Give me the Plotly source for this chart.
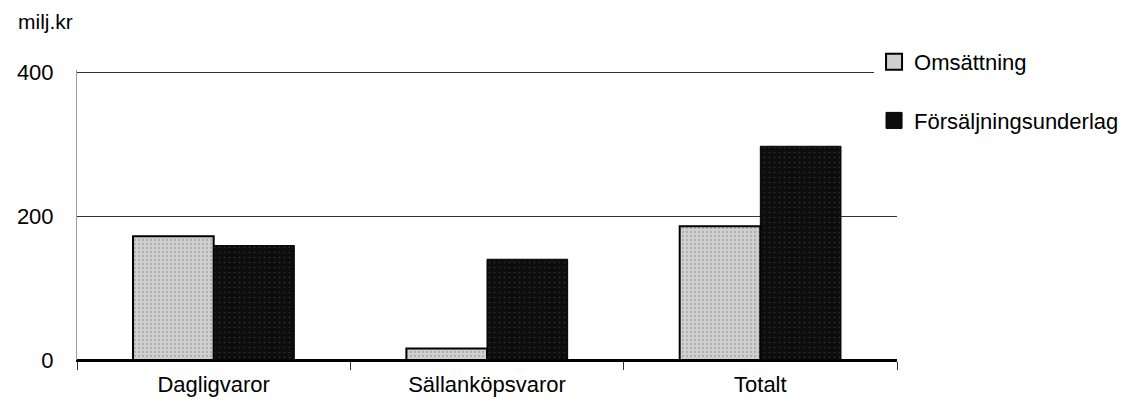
import plotly.graph_objects as go

categories = ["Dagligvaror", "Sällanköpsvaror", "Totalt"]
omsattning = [172, 16, 186]
forsaljningsunderlag = [159, 140, 297]
y_ticks = [0, 200, 400]

FONT = "Liberation Sans, Arial, Helvetica, sans-serif"
LIGHT = "#d0d0d0"
DARK = "#0d0d0d"

fig = go.Figure()
fig.add_trace(go.Bar(
    x=categories, y=omsattning, name="Omsättning", showlegend=False,
    marker=dict(color=LIGHT, line=dict(color="black", width=2),
                pattern=dict(shape=".", fgcolor="#8a8a8a", size=4, solidity=0.25)),
))
fig.add_trace(go.Bar(
    x=categories, y=forsaljningsunderlag, name="Försäljningsunderlag", showlegend=False,
    marker=dict(color=DARK, line=dict(color="black", width=1),
                pattern=dict(shape=".", fgcolor="#5a5a5a", size=5, solidity=0.08)),
))

# legend-only entries so the key squares can be as large as in the original
fig.add_trace(go.Scatter(
    x=[None], y=[None], mode="markers", name="Omsättning", legendgroup="a",
    marker=dict(symbol="square", size=20, color=LIGHT, line=dict(color="black", width=2)),
))
fig.add_trace(go.Scatter(
    x=[None], y=[None], mode="markers", name="Försäljningsunderlag", legendgroup="b",
    marker=dict(symbol="square", size=20, color=DARK, line=dict(color="black", width=1)),
))

fig.update_layout(
    width=1130, height=395,
    paper_bgcolor="white", plot_bgcolor="white",
    font=dict(family=FONT, size=22, color="black"),
    margin=dict(l=69, r=241, t=62, b=43),
    barmode="group", bargap=0.41, bargroupgap=0,
    showlegend=True,
    legend=dict(x=0.972, y=1.1, xanchor="left", yanchor="top",
                bgcolor="white", font=dict(size=22), tracegroupgap=27,
                itemsizing="trace"),
    annotations=[dict(text="milj.kr", xref="paper", yref="paper", x=-0.075, y=1.12,
                      xanchor="left", yanchor="bottom", showarrow=False,
                      font=dict(size=21))],
)
fig.update_yaxes(
    range=[0, 403], tickvals=y_ticks, showgrid=True, gridcolor="#333333", gridwidth=1,
    zeroline=True, zerolinecolor="black", zerolinewidth=1.5,
    showline=True, linecolor="#9a9a9a", linewidth=1,
    ticks="", ticklabelstandoff=18, automargin=False,
)
fig.update_xaxes(
    showline=True, linecolor="black", linewidth=1.5, automargin=False,
    ticks="outside", tickson="boundaries", ticklen=8, tickcolor="#333333",
    ticklabelstandoff=4,
)

fig.write_html("out.html")
